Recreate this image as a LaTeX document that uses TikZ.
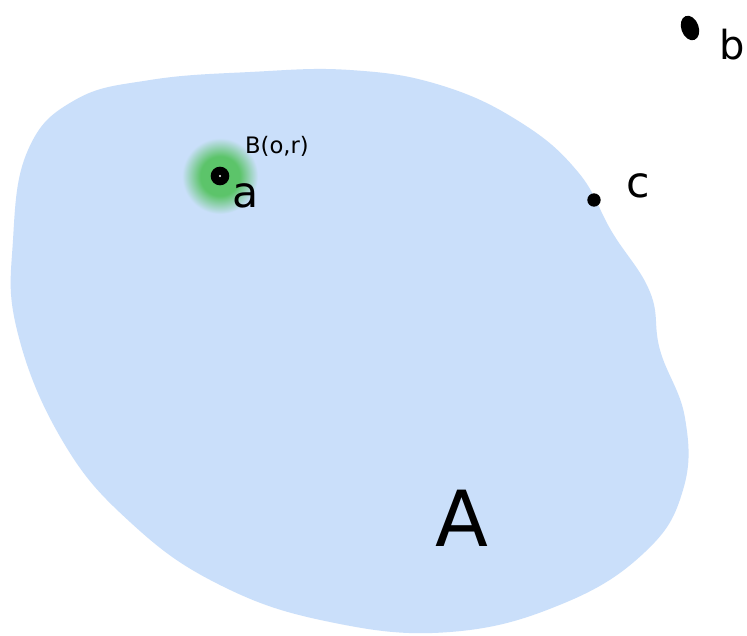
\documentclass[tikz,border=0pt]{standalone}
\usepackage{fontspec}
\setmainfont{DejaVu Sans}
\usetikzlibrary{shapes.geometric}
\definecolor{blobblue}{RGB}{202,223,250}
\definecolor{halogreen}{RGB}{92,196,106}
\pgfdeclareradialshading{halo}{\pgfpoint{0bp}{0bp}}{color(0bp)=(halogreen);color(13bp)=(halogreen);color(25bp)=(blobblue);color(50bp)=(blobblue)}
\tikzset{
  pt/.style={circle,fill=black,inner sep=0pt},
  lbl/.style={inner sep=0pt,text=black},
}
\begin{document}
\begin{tikzpicture}[x=0.75pt,y=-0.75pt]
\useasboundingbox (0,0) rectangle (747,636);
\fill[white] (0,0) rectangle (747,636);
% blob A
\fill[blobblue] plot[smooth cycle,tension=0.7] coordinates {
 (28,150) (75,100) (150,80) (250,72) (350,70) (440,85) (520,122)
 (578,172) (612,232) (650,292) (660,350) (685,418) (683,490)
 (645,552) (562,604) (450,632) (330,622) (220,585) (130,522)
 (62,440) (17,330) (13,240)};
% green ball B(o,r)
\shade[shading=halo] (220,176) circle[radius=38];
\node[pt,minimum size=14pt] (a) at (220,176) {};
\fill[white] (a.center) circle[radius=1.2];
\node[pt,minimum size=10pt] (c) at (594,200) {};
\node[ellipse,fill=black,inner sep=0pt,minimum width=13pt,minimum height=19pt,rotate=20] (b) at (690,28) {};
% labels
\node[lbl,font=\fontsize{17}{17}\selectfont] (Blbl) at (277,146) {B(o,r)};
\node[lbl,font=\fontsize{32}{32}\selectfont] (albl) at (246,196) {a};
\node[lbl,font=\fontsize{32}{32}\selectfont] (clbl) at (638,186) {c};
\node[lbl,font=\fontsize{30}{30}\selectfont,anchor=east] (blbl) at (745,45) {b};
\node[lbl,font=\fontsize{58}{58}\selectfont] (Albl) at (462,518) {A};
\end{tikzpicture}
\end{document}
